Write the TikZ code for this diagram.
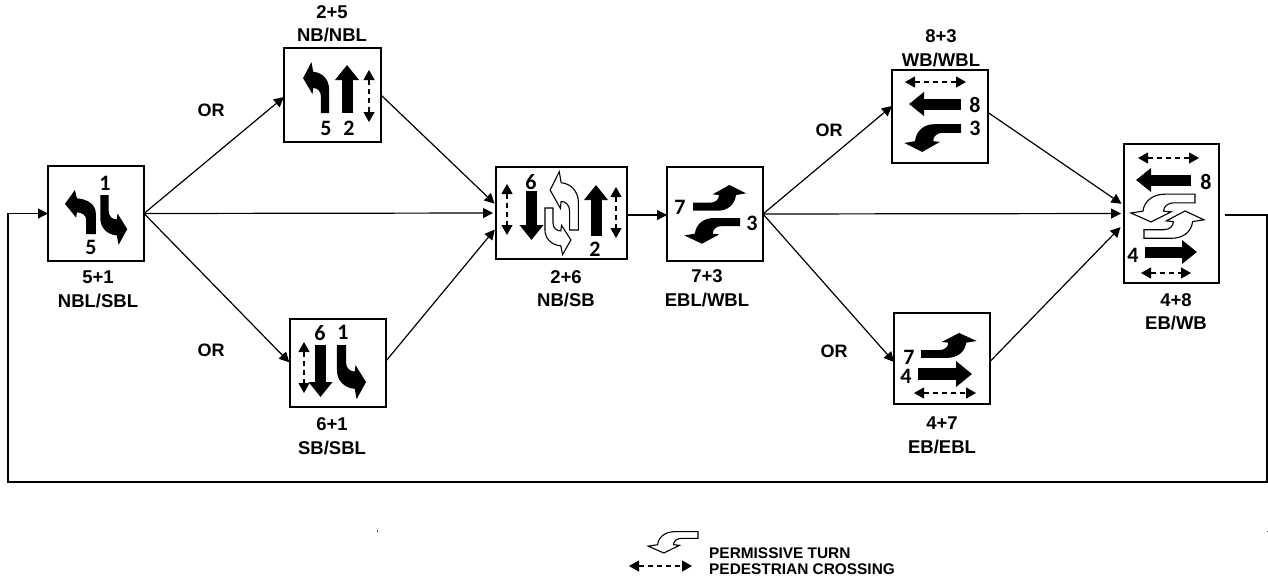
\documentclass[tikz,border=0pt]{standalone}
\usepackage{fontspec}
\setmainfont{Liberation Sans}
\newfontfamily\numfont{Carlito}
\usetikzlibrary{arrows.meta}
\tikzset{
  box/.style={draw=black,line width=1.3pt,fill=white,inner sep=0pt,outer sep=0pt},
  conn/.style={draw=black,line width=1.2pt,-{Triangle[length=10pt,width=10pt]}},
  plain/.style={draw=black,line width=1.5pt},
  lbl/.style={inner sep=0pt,font=\fontsize{18.5}{20}\selectfont\bfseries,text height=13pt,text depth=0pt},
  orl/.style={inner sep=0pt,font=\fontsize{18}{20}\selectfont\bfseries},
  num/.style={inner sep=0pt,font=\numfont\fontsize{22}{24}\selectfont\bfseries},
  leg/.style={inner sep=0pt,anchor=west,font=\fontsize{15.4}{17}\selectfont\bfseries,text height=11pt,text depth=0pt},
  straight/.style={draw=black,line cap=butt,line width=11pt,-{Triangle[length=15pt,width=23pt]}},
  solidturn/.style={fill=black,draw=none},
  permturn/.style={fill=white,draw=black,line width=1.1pt,line join=miter},
  ped/.style={draw=black,line width=1.1pt,dash pattern=on 5pt off 4pt,{Triangle[length=10pt,width=11pt]}-{Triangle[length=10pt,width=11pt]}},
}
% #1 style, #2 origin of the stem, #3 unit vector along the stem, #4 unit vector towards the turn
\newcommand{\swoosh}[4]{%
  \begin{scope}[shift={(#2)},x={(#3)},y={(#4)}]
  \path[#1] (0,4) -- (17,4) .. controls (23,4) and (26,7.7) .. (26,11.7) -- (19.7,12.4) -- (36.3,21.7)
    -- (53,13.4) -- (43,11.7) .. controls (42,1.7) and (34,-4) .. (25,-4) -- (0,-4) -- cycle;
  \end{scope}}
\begin{document}
\begin{tikzpicture}[x=1pt,y=-1pt]
\useasboundingbox (0,0) rectangle (1268,576);
\fill[white] (0,0) rectangle (1268,576);

% boxes
\node[box,minimum width=96pt,minimum height=95pt] (n51) at (96,213.5) {};
\node[box,minimum width=97pt,minimum height=94pt] (n25) at (332.5,95) {};
\node[box,minimum width=96pt,minimum height=88pt] (n61) at (338,363) {};
\node[box,minimum width=131pt,minimum height=92pt] (n26) at (561.5,213) {};
\node[box,minimum width=96pt,minimum height=94pt] (n73) at (715,214) {};
\node[box,minimum width=96pt,minimum height=93pt] (n83) at (940,116.5) {};
\node[box,minimum width=96pt,minimum height=91pt] (n47) at (942,358.5) {};
\node[box,minimum width=95pt,minimum height=139pt] (n48) at (1171.5,213.5) {};

% connectors
\draw[conn] (n51.east) -- ([yshift=-2pt]n25.west);
\draw[conn,shorten >=3pt] (n51.east) -- (n26.west);
\draw[conn,shorten >=1pt] (n51.east) -- (n61.west);
\draw[conn,shorten >=2pt] (n25.east) -- ([yshift=8pt]n26.west);
\draw[conn,shorten >=2pt] ([yshift=2pt]n61.east) -- ([yshift=-15pt]n26.west);
\draw[conn] ([yshift=-2pt]n26.east) -- ([yshift=-1pt]n73.west);
\draw[conn] (n73.east) -- ([yshift=10.5pt]n83.west);
\draw[conn,shorten >=3pt] (n73.east) -- (n48.west);
\draw[conn] (n73.east) -- ([yshift=-3.5pt]n47.west);
\draw[conn,shorten >=3pt] ([yshift=4pt]n83.east) -- ([yshift=8pt]n48.west);
\draw[conn,shorten >=5pt] ([yshift=-3pt]n47.east) -- ([yshift=-10pt]n48.west);
\coordinate (c0) at (1225,215);
\coordinate (c1) at (1267,215);
\coordinate (c2) at (1267,482);
\coordinate (c3) at (8,482);
\coordinate (c4) at (8,213.5);
\draw[plain,line join=miter] (c0) -- (c1) -- (c2) -- (c3) -- (c4) -- ++(10,0);
\draw[conn] (c4) -- (n51.west);

% labels
\node[lbl] (t51) at (98,277) {5+1};
\node[lbl] (u51) at (98,301) {NBL/SBL};
\node[lbl] (t25) at (332,12) {2+5};
\node[lbl] (u25) at (332,35) {NB/NBL};
\node[lbl] (t61) at (332,424) {6+1};
\node[lbl] (u61) at (332,448) {SB/SBL};
\node[lbl] (t26) at (566,277) {2+6};
\node[lbl] (u26) at (566,300) {NB/SB};
\node[lbl] (t73) at (707,276) {7+3};
\node[lbl] (u73) at (707,300) {EBL/WBL};
\node[lbl] (t83) at (941,36) {8+3};
\node[lbl] (u83) at (941,60) {WB/WBL};
\node[lbl] (t47) at (942,423) {4+7};
\node[lbl] (u47) at (942,447) {EB/EBL};
\node[lbl] (t48) at (1176,300) {4+8};
\node[lbl] (u48) at (1176,323) {EB/WB};
\node[orl] (or1) at (211,110) {OR};
\node[orl] (or2) at (211,350) {OR};
\node[orl] (or3) at (829,130) {OR};
\node[orl] (or4) at (834,351) {OR};

% 5+1
\swoosh{solidturn}{91,234}{0pt,.83pt}{-1.2pt,0pt}
\swoosh{solidturn}{104.5,195}{0pt,-.94pt}{1.05pt,0pt}
\node[num] (a1) at (105,183) {1};
\node[num] (a5) at (91,247) {5};

% 2+5
\swoosh{solidturn}{325,113}{0pt,.96pt}{-1.01pt,0pt}
\path[straight] (347,113) -- (347,65);
\draw[ped] (369,70) -- (369,122);
\node[num] (b5) at (326,128) {5};
\node[num] (b2) at (349,128) {2};

% 6+1
\draw[ped] (304,342) -- (304,393);
\path[straight] (320.5,345) -- (320.5,397);
\swoosh{solidturn}{341.5,345}{0pt,-1.02pt}{1.13pt,0pt}
\node[num] (c6) at (320,333) {6};
\node[num] (c1n) at (343,332) {1};

% 2+6
\draw[ped] (507,184) -- (507,235);
\path[straight] (531.5,191) -- (531.5,240);
\path[straight] (596,236) -- (596,185);
\draw[ped] (616,187) -- (616,238);
\swoosh{permturn}{574,230}{0pt,1.1pt}{-1.1pt,0pt}
\swoosh{permturn}{549,208}{0pt,-.88pt}{1.01pt,0pt}
\node[num] (d6) at (531,182) {6};
\node[num] (d2) at (595,249) {2};

% 7+3
\swoosh{solidturn}{693,206.7}{1pt,0pt}{0pt,1pt}
\swoosh{solidturn}{740,222}{-1.05pt,0pt}{0pt,-1pt}
\node[num] (e7) at (680,207) {7};
\node[num] (e3) at (752,223) {3};

% 8+3
\draw[ped] (905,82) -- (966,82);
\path[straight] (961,104) -- (909,104);
\swoosh{solidturn}{961,128.5}{-1.07pt,0pt}{0pt,-1.08pt}
\node[num] (f8) at (975,105) {8};
\node[num] (f3) at (975,128) {3};

% 4+7
\swoosh{solidturn}{921,354}{1.05pt,0pt}{0pt,.97pt}
\path[draw=black,line cap=butt,line width=12pt,-{Triangle[length=16pt,width=25pt]}] (918,374) -- (972,374);
\draw[ped] (914,393) -- (976,393);
\node[num] (g7) at (909,357) {7};
\node[num] (g4) at (906,376) {4};

% 4+8
\draw[ped] (1138,158) -- (1199,158);
\path[straight] (1191,180) -- (1136,180);
\swoosh{permturn}{1195,198.5}{-1.21pt,0pt}{0pt,-1.08pt}
\swoosh{permturn}{1144,234}{1.13pt,0pt}{0pt,1.06pt}
\path[straight] (1145,252) -- (1197,252);
\draw[ped] (1141,273) -- (1191,273);
\node[num] (h8) at (1206,182) {8};
\node[num] (h4) at (1133,255) {4};

% legend
\swoosh{permturn}{698,535}{-.94pt,0pt}{0pt,-.83pt}
\draw[ped] (629,566) -- (692,566);
\node[leg] (l1) at (709,553) {PERMISSIVE TURN};
\node[leg] (l2) at (709,569) {PEDESTRIAN CROSSING};

% specks
\fill[black!70] (376.5,530) rectangle (378,531.5);
\fill[black!70] (1266.5,530.5) rectangle (1268,532);
\end{tikzpicture}
\end{document}
